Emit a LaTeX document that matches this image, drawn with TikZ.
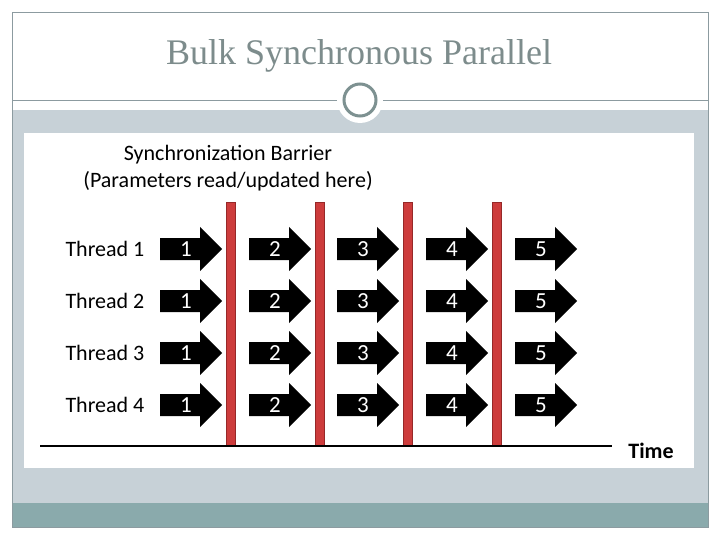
\documentclass[tikz,border=0pt]{standalone}
\usepackage{fontspec}
\setmainfont{Carlito}
\newfontfamily\titlefont{Liberation Serif}
\definecolor{band}{RGB}{199,209,215}
\definecolor{strip}{RGB}{138,170,172}
\definecolor{frame}{RGB}{140,155,160}
\definecolor{titlec}{RGB}{125,140,140}
\definecolor{ring}{RGB}{125,145,145}
\definecolor{barfill}{RGB}{205,60,60}
\definecolor{bardraw}{RGB}{150,40,40}
\begin{document}
\begin{tikzpicture}[x=1pt,y=-1pt,
  num/.style={text=white, font=\fontsize{23}{24}\selectfont},
  bar/.style={fill=barfill, draw=bardraw, line width=0.6pt}]
\useasboundingbox (0,0) rectangle (720,540);
\fill[white] (0,0) rectangle (720,540);
\fill[band] (12,110) rectangle (708,503);
\fill[strip] (12,503) rectangle (708,527);
\draw[frame, line width=0.8pt] (12,12) rectangle (708,527);
\draw[frame, line width=0.8pt] (12,100) -- (708,100);
\node[font=\titlefont\fontsize{36}{38}\selectfont, text=titlec] (title) at (359,56) {Bulk Synchronous Parallel};
\fill[white] (360,100) circle (23);
\draw[ring, line width=3pt] (360,100) circle (16);
\fill[white] (24,133) rectangle (694,468);
\node[align=center, font=\fontsize{22}{27}\selectfont] (sb) at (228,168) {Synchronization Barrier\\(Parameters read/updated here)};
\foreach \x [count=\i] in {231,320,408,497} {
  \draw[bar] (\x-4.5,202) rectangle (\x+4.5,446);
}
\draw[line width=2.2pt] (40,446) -- (612,446);
\node[font=\bfseries\fontsize{22}{24}\selectfont] (time) at (651,451) {Time};
\foreach \y [count=\r] in {249,301,353,405} {
  \node[font=\fontsize{22}{24}\selectfont, anchor=west] (t\r) at (62,\y) {Thread \r};
  \foreach \x [count=\k] in {160,249,337,426,515} {
    \fill (\x,\y-11) -- (\x+40,\y-11) -- (\x+40,\y-22) -- (\x+62,\y) -- (\x+40,\y+22) -- (\x+40,\y+11) -- (\x,\y+11) -- cycle;
    \node[num] (n\r\k) at (\x+26,\y) {\k};
  }
}
\end{tikzpicture}
\end{document}
